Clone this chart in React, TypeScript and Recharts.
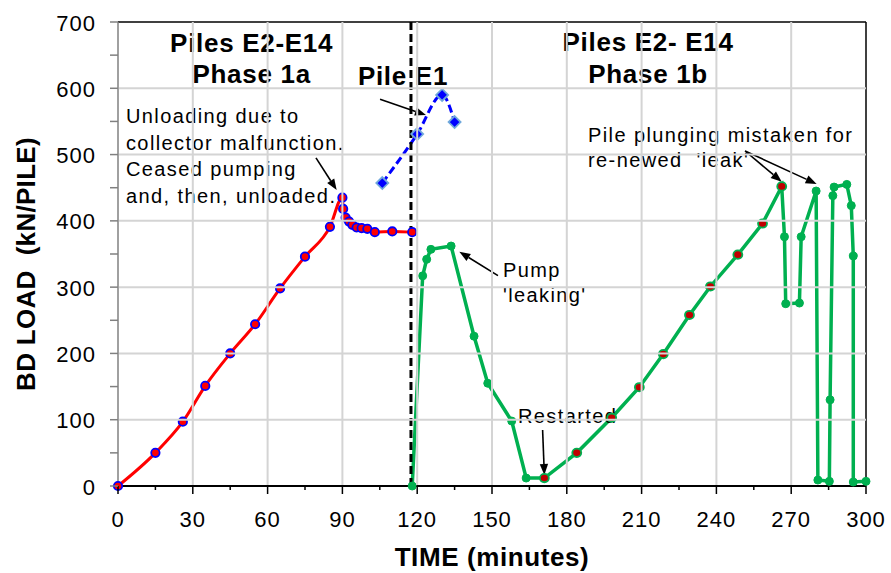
import React from 'react';
import {
  ComposedChart,
  Line,
  XAxis,
  YAxis,
  ReferenceLine,
  ReferenceDot,
} from 'recharts';

// ---------- data ----------
const phase1aTime = [0, 15, 26, 35, 45, 55, 65, 75, 85, 90, 90.3, 91.3, 92.7, 94, 95.7, 97.7, 100, 103, 110, 118];
const phase1aLoad = [0, 50, 97, 151, 200, 244, 298, 346, 391, 435, 418, 405, 399, 394, 390, 389, 388, 383, 384, 383];

const pileE1Time = [106, 120, 130, 135];
const pileE1Load = [457, 531, 590, 549];

const phase1bTime = [118, 122.2, 123.8, 125.5, 133.6, 142.8, 148.3, 157.9, 163.7, 171, 184, 198, 209.1, 218.7, 229.2, 237.6, 248.6, 258.5, 266.2, 267.3, 267.8, 273.3, 274, 280, 280.7, 285.3, 285.6, 286.7, 287.2, 292.3, 294.1, 294.9, 294.9, 300];
const phase1bLoad = [0, 317, 342, 357, 362, 226, 155, 98, 12, 12, 50, 103, 149, 199, 258, 301, 349, 396, 452, 376, 275, 276, 376, 445, 9, 7, 130, 438, 451, 455, 423, 347, 6, 7];
// indices of phase 1b points drawn with a red fill (reloading after restart)
const reloadFirst = 9;
const reloadLast = 18;

const xTicks = [0, 15, 30, 45, 60, 75, 90, 105, 120, 135, 150, 165, 180, 195, 210, 225, 240, 255, 270, 285, 300];
const yTicks = [0, 50, 100, 150, 200, 250, 300, 350, 400, 450, 500, 550, 600, 650, 700];
const xGrid = [30, 60, 90, 120, 150, 180, 210, 240, 270];
const yGrid = [100, 200, 300, 400, 500, 600];
const xDomain = [0, 300];
const yDomain = [0, 700];
const dividerTime = 117.5;

const toRows = (xs: number[], ys: number[]) => xs.map((x, i) => ({ x, y: ys[i] }));
const phase1a = toRows(phase1aTime, phase1aLoad);
const pileE1 = toRows(pileE1Time, pileE1Load);
const phase1b = toRows(phase1bTime, phase1bLoad);

// annotations (data coordinates)
const textNotes = [
  { x: 53.6, y: 655, lines: ['Piles E2-E14', 'Phase 1a'], anchor: 'middle', bold: true, lh: 31.6 },
  { x: 212.6, y: 656, lines: ['Piles E2- E14', 'Phase 1b'], anchor: 'middle', bold: true, lh: 32.3 },
  { x: 114.3, y: 605, lines: ['Pile E1'], anchor: 'middle', bold: true, lh: 30 },
  { x: 3.2, y: 548, lines: ['Unloading due to', 'collector malfunction.', 'Ceased pumping', 'and, then, unloaded.'], anchor: 'start', bold: false, lh: 26.8 },
  { x: 154.4, y: 315.3, lines: ['Pump', "'leaking'"], anchor: 'start', bold: false, lh: 25 },
  { x: 160.4, y: 95, lines: ['Restarted'], anchor: 'start', bold: false, lh: 25 },
  { x: 188.5, y: 519.4, lines: ['Pile plunging mistaken for', "re-newed  'leak'"], anchor: 'start', bold: false, lh: 25 },
];

const arrows = [
  { from: { x: 79.4, y: 495 }, to: { x: 87.7, y: 446.6 } },
  { from: { x: 105.1, y: 583.4 }, to: { x: 123.5, y: 559.7 } },
  { from: { x: 152.4, y: 317.3 }, to: { x: 136.9, y: 353.5 } },
  { from: { x: 170.3, y: 84.5 }, to: { x: 171, y: 16.6 } },
  { from: { x: 251.5, y: 505.4 }, to: { x: 266.2, y: 459 } },
  { from: { x: 251.5, y: 505.4 }, to: { x: 280.2, y: 455.6 } },
];

// ---------- layout ----------
const CHART_W = 891;
const CHART_H = 573;
const MARGIN = { top: 22, right: 25, bottom: 0, left: 0 };
const Y_AXIS_W = 118;
const X_AXIS_H = 87;
const PLOT_W = CHART_W - MARGIN.left - MARGIN.right - Y_AXIS_W;
const PLOT_H = CHART_H - MARGIN.top - MARGIN.bottom - X_AXIS_H;

const FONT = '"Liberation Sans", Arial, Helvetica, sans-serif';
const GRID = '#d4d4d4';

// ---------- renderers ----------
const XTick = (p: any) => {
  const { x, y, payload } = p;
  const v = payload.value;
  const major = v % 30 === 0;
  return (
    <g>
      {xGrid.includes(v) && <line x1={x} x2={x} y1={y - 1} y2={y - PLOT_H} stroke={GRID} strokeWidth={2} />}
      <line x1={x} x2={x} y1={y} y2={y + (major ? 8 : 4)} stroke="#000" strokeWidth={1.5} />
      {major && (
        <text x={x} y={y + 41} textAnchor="middle" fontSize={22} letterSpacing={1} fill="#000" fontFamily={FONT}>
          {v}
        </text>
      )}
    </g>
  );
};

const YTick = (p: any) => {
  const { x, y, payload } = p;
  const v = payload.value;
  const major = v % 100 === 0;
  return (
    <g>
      {yGrid.includes(v) && <line x1={x + 1} x2={x + PLOT_W} y1={y} y2={y} stroke={GRID} strokeWidth={2} />}
      <line x1={x - 8} x2={x} y1={y} y2={y} stroke="#808080" strokeWidth={1.5} />
      {major && (
        <text x={x - 22} y={y + 8.5} textAnchor="end" fontSize={22} letterSpacing={1} fill="#000" fontFamily={FONT}>
          {v}
        </text>
      )}
    </g>
  );
};

const RedDot = (p: any) => {
  const { cx, cy, index } = p;
  return <circle key={`r${index}`} cx={cx} cy={cy} r={4.2} fill="#ff0000" stroke="#0000ff" strokeWidth={1.8} />;
};

const Diamond = (p: any) => {
  const { cx, cy, index } = p;
  const s = 6;
  return (
    <polygon
      key={`d${index}`}
      points={`${cx},${cy - s} ${cx + s},${cy} ${cx},${cy + s} ${cx - s},${cy}`}
      fill="#0000ff"
      stroke="#6fa8dc"
      strokeWidth={1.8}
    />
  );
};

const GreenDot = (p: any) => {
  const { cx, cy, index } = p;
  if (index >= reloadFirst && index <= reloadLast) {
    return <ellipse key={`g${index}`} cx={cx} cy={cy} rx={4.5} ry={4.2} fill="#c00000" stroke="#00b050" strokeWidth={1.8} />;
  }
  return <circle key={`g${index}`} cx={cx} cy={cy} r={4} fill="#00b050" stroke="#00b050" strokeWidth={1} />;
};

const makeNote = (n: any) => (p: any) => {
  const { cx, cy } = p;
  return (
    <text
      x={cx}
      y={cy}
      textAnchor={n.anchor}
      fontFamily={FONT}
      fontSize={n.bold ? 26 : 20}
      fontWeight={n.bold ? 'bold' : 'normal'}
      letterSpacing={n.bold ? 0.7 : 1.4}
      fill="#000"
      style={{ whiteSpace: 'pre' }}
    >
      {n.lines.map((l: string, i: number) => (
        <tspan key={i} x={cx} dy={i === 0 ? 0 : n.lh}>
          {l}
        </tspan>
      ))}
    </text>
  );
};

const ArrowShape = (p: any) => {
  const { x1, y1, x2, y2 } = p;
  if ([x1, y1, x2, y2].some((v) => typeof v !== 'number' || isNaN(v))) return <g />;
  const ang = Math.atan2(y2 - y1, x2 - x1);
  const len = 11;
  const hw = 4.2;
  const bx = x2 - len * Math.cos(ang);
  const by = y2 - len * Math.sin(ang);
  const px = -Math.sin(ang) * hw;
  const py = Math.cos(ang) * hw;
  return (
    <g>
      <line x1={x1} y1={y1} x2={bx} y2={by} stroke="#000" strokeWidth={1.6} />
      <polygon points={`${x2},${y2} ${bx + px},${by + py} ${bx - px},${by - py}`} fill="#000" />
    </g>
  );
};

const XTitle = (p: any) => {
  const vb = p.viewBox || { x: Y_AXIS_W, y: 486, width: PLOT_W, height: X_AXIS_H };
  return (
    <text
      x={vb.x + vb.width / 2}
      y={566}
      textAnchor="middle"
      fontFamily={FONT}
      fontSize={26}
      fontWeight="bold"
      letterSpacing={0.6}
      fill="#000"
    >
      TIME (minutes)
    </text>
  );
};

const YTitle = () => {
  const cx = 35;
  const cy = 264;
  return (
    <text
      x={cx}
      y={cy}
      transform={`rotate(-90 ${cx} ${cy})`}
      textAnchor="middle"
      fontFamily={FONT}
      fontSize={26}
      fontWeight="bold"
      letterSpacing={0.3}
      fill="#000"
      style={{ whiteSpace: 'pre' }}
    >
      {'BD LOAD  (kN/PILE)'}
    </text>
  );
};

const TOP = 560;

export default function App() {
  const lineZ: any = { zIndex: TOP };
  const refZ: any = { zIndex: TOP + 10 };
  const noteZ: any = { zIndex: TOP + 20 };
  return (
    <div style={{ position: 'absolute', left: 0, top: 0, width: CHART_W, height: CHART_H, background: '#fff' }}>
      <ComposedChart width={CHART_W} height={CHART_H} margin={MARGIN}>
        <XAxis
          type="number"
          dataKey="x"
          domain={xDomain}
          ticks={xTicks}
          interval={0}
          tick={<XTick />}
          tickLine={false}
          tickSize={0}
          tickMargin={0}
          axisLine={{ stroke: '#000', strokeWidth: 2 }}
          height={X_AXIS_H}
          label={XTitle}
        />
        <YAxis
          type="number"
          dataKey="y"
          domain={yDomain}
          ticks={yTicks}
          interval={0}
          tick={<YTick />}
          tickLine={false}
          tickSize={0}
          tickMargin={0}
          axisLine={{ stroke: '#808080', strokeWidth: 1.5 }}
          width={Y_AXIS_W}
          label={YTitle}
        />

        <ReferenceLine y={700} stroke="#000" strokeWidth={1.5} />
        <ReferenceLine x={300} stroke="#000" strokeWidth={1.5} />

        <Line
          {...lineZ}
          data={phase1b}
          dataKey="y"
          type="linear"
          stroke="#00b050"
          strokeWidth={3.5}
          dot={GreenDot}
          activeDot={false}
          isAnimationActive={false}
        />
        <Line
          {...lineZ}
          data={phase1a}
          dataKey="y"
          type="monotone"
          stroke="#ff0000"
          strokeWidth={3}
          dot={RedDot}
          activeDot={false}
          isAnimationActive={false}
        />
        <Line
          {...lineZ}
          data={pileE1}
          dataKey="y"
          type="monotone"
          stroke="#0000ff"
          strokeWidth={3}
          strokeDasharray="8 4"
          dot={Diamond}
          activeDot={false}
          isAnimationActive={false}
        />

        <ReferenceLine
          {...refZ}
          segment={[
            { x: dividerTime, y: 700 },
            { x: dividerTime, y: -5 },
          ]}
          ifOverflow="visible"
          stroke="#000"
          strokeWidth={3}
          strokeDasharray="8 4"
        />

        {arrows.map((a, i) => (
          <ReferenceLine {...refZ} key={`a${i}`} segment={[a.from, a.to]} ifOverflow="visible" shape={ArrowShape} />
        ))}
        {textNotes.map((n, i) => (
          <ReferenceDot {...noteZ} key={`t${i}`} x={n.x} y={n.y} r={1} ifOverflow="visible" shape={makeNote(n)} />
        ))}
      </ComposedChart>
    </div>
  );
}
